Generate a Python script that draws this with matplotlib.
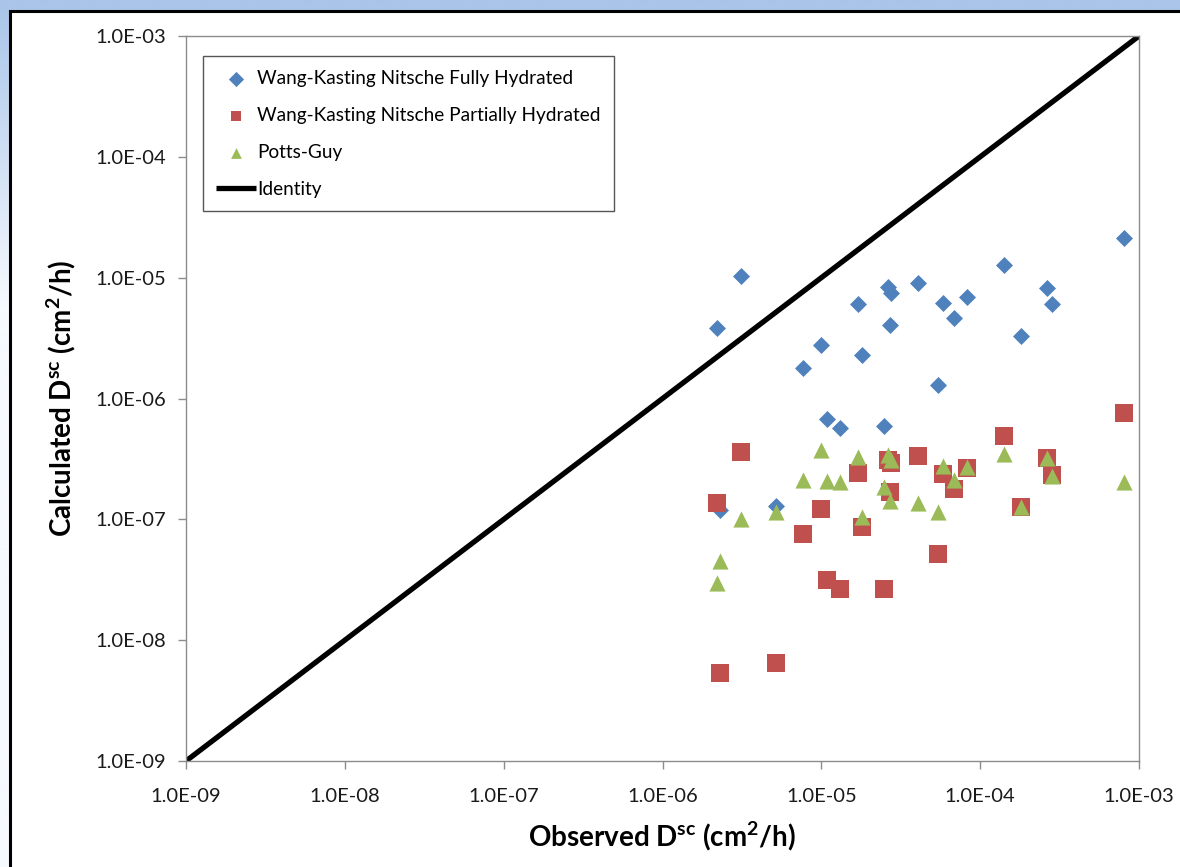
import matplotlib
matplotlib.use("Agg")
import matplotlib.pyplot as plt
import matplotlib.patches as patches
from matplotlib.ticker import FuncFormatter, FixedLocator, NullLocator
import numpy as np

plt.rcParams["font.family"] = ["Lato", "DejaVu Sans"]
plt.rcParams["mathtext.fontset"] = "custom"
plt.rcParams["mathtext.rm"] = "Lato"
plt.rcParams["mathtext.bf"] = "Lato:bold"

# observed diffusion coefficients (cm2/h), shared by the three models
observed = [2.21e-6, 2.31e-6, 3.13e-6, 5.19e-6, 7.67e-6, 9.98e-6, 1.09e-5, 1.31e-5,
            1.71e-5, 1.81e-5, 2.48e-5, 2.64e-5, 2.75e-5, 2.70e-5, 4.07e-5, 5.44e-5,
            5.85e-5, 6.86e-5, 8.28e-5, 1.42e-4, 1.81e-4, 2.64e-4, 2.84e-4, 8.07e-4]

wk_fully = [3.83e-6, 1.19e-7, 1.03e-5, 1.29e-7, 1.79e-6, 2.77e-6, 6.75e-7, 5.69e-7,
            6.04e-6, 2.29e-6, 5.92e-7, 8.35e-6, 7.46e-6, 4.06e-6, 9.02e-6, 1.29e-6,
            6.17e-6, 4.64e-6, 6.90e-6, 1.27e-5, 3.29e-6, 8.20e-6, 6.04e-6, 2.13e-5]

wk_partial = [1.36e-7, 5.33e-9, 3.60e-7, 6.45e-9, 7.55e-8, 1.21e-7, 3.14e-8, 2.64e-8,
              2.41e-7, 8.61e-8, 2.64e-8, 3.09e-7, 2.92e-7, 1.68e-7, 3.33e-7, 5.15e-8,
              2.37e-7, 1.78e-7, 2.65e-7, 4.89e-7, 1.26e-7, 3.21e-7, 2.32e-7, 7.57e-7]

potts_guy = [3.0e-8, 4.5e-8, 1.0e-7, 1.15e-7, 2.11e-7, 3.74e-7, 2.07e-7, 2.03e-7,
             3.27e-7, 1.04e-7, 1.85e-7, 3.40e-7, 3.10e-7, 1.42e-7, 1.36e-7, 1.15e-7,
             2.75e-7, 2.11e-7, 2.70e-7, 3.47e-7, 1.26e-7, 3.21e-7, 2.28e-7, 2.03e-7]

identity = [1e-9, 1e-3]
decades = [1e-9, 1e-8, 1e-7, 1e-6, 1e-5, 1e-4, 1e-3]

W, H = 1180, 867
fig = plt.figure(figsize=(W / 100, H / 100), dpi=100)

# background: light blue gradient fading down, then white panel with black border
bg = fig.add_axes([0, 0, 1, 1], zorder=-10)
top = np.array([168, 196, 232]) / 255
low = np.array([246, 249, 254]) / 255
t = np.clip(np.linspace(0, 1, 400) / 0.35, 0, 1)[:, None]
grad = top * (1 - t) + low * t
bg.imshow(grad[:, None, :], aspect="auto", extent=[0, 1, 0, 1])
bg.set_axis_off()
bg.add_patch(patches.Rectangle((10 / W, -0.05), 1.2, (H - 11) / H + 0.05,
                               transform=bg.transAxes, facecolor="white",
                               edgecolor="black", linewidth=2.2))

ax = fig.add_axes([186 / W, 1 - 761 / H, (1139 - 186) / W, (761 - 36) / H])
ax.set_facecolor("white")

ax.scatter(observed, wk_fully, marker="D", s=75, color="#4F81BD", linewidths=0,
           label="Wang-Kasting Nitsche Fully Hydrated", zorder=3)
ax.scatter(observed, wk_partial, marker="s", s=150, color="#C0504D", linewidths=0,
           label="Wang-Kasting Nitsche Partially Hydrated", zorder=4)
ax.scatter(observed, potts_guy, marker="^", s=135, color="#9BBB59", linewidths=0,
           label="Potts-Guy", zorder=5)
ax.plot(identity, identity, color="black", lw=3.8, solid_capstyle="butt",
        label="Identity", zorder=2)

ax.set_xscale("log")
ax.set_yscale("log")
ax.set_xlim(1e-9, 1e-3)
ax.set_ylim(1e-9, 1e-3)

fmt = FuncFormatter(lambda v, pos: f"{v:.1E}")
for axis in (ax.xaxis, ax.yaxis):
    axis.set_major_locator(FixedLocator(decades))
    axis.set_minor_locator(NullLocator())
    axis.set_major_formatter(fmt)

for s in ax.spines.values():
    s.set_color("#8c8c8c")
    s.set_linewidth(1.0)
ax.tick_params(axis="both", colors="#8c8c8c", labelcolor="#1a1a1a",
               labelsize=14.5, length=5.5, width=1.0)
ax.tick_params(axis="x", pad=14)
ax.tick_params(axis="y", pad=9)

ax.set_xlabel(r"Observed D$^{\mathbf{sc}}$ (cm$^{\mathbf{2}}$/h)",
              fontsize=20, fontweight="bold", labelpad=10)
ax.set_ylabel(r"Calculated D$^{\mathbf{sc}}$ (cm$^{\mathbf{2}}$/h)",
              fontsize=20, fontweight="bold", labelpad=12)

leg = ax.legend(loc="upper left", bbox_to_anchor=(0.018, 0.972), borderaxespad=0,
                fontsize=13.7, frameon=True, fancybox=False, framealpha=1,
                edgecolor="#555555", labelspacing=1.05, handlelength=2.1,
                handletextpad=0.05, borderpad=0.7, scatterpoints=1)
leg.get_frame().set_linewidth(1.0)
for h in leg.legend_handles[:3]:
    h.set_sizes([60])

fig.savefig("out.png", dpi=100)
